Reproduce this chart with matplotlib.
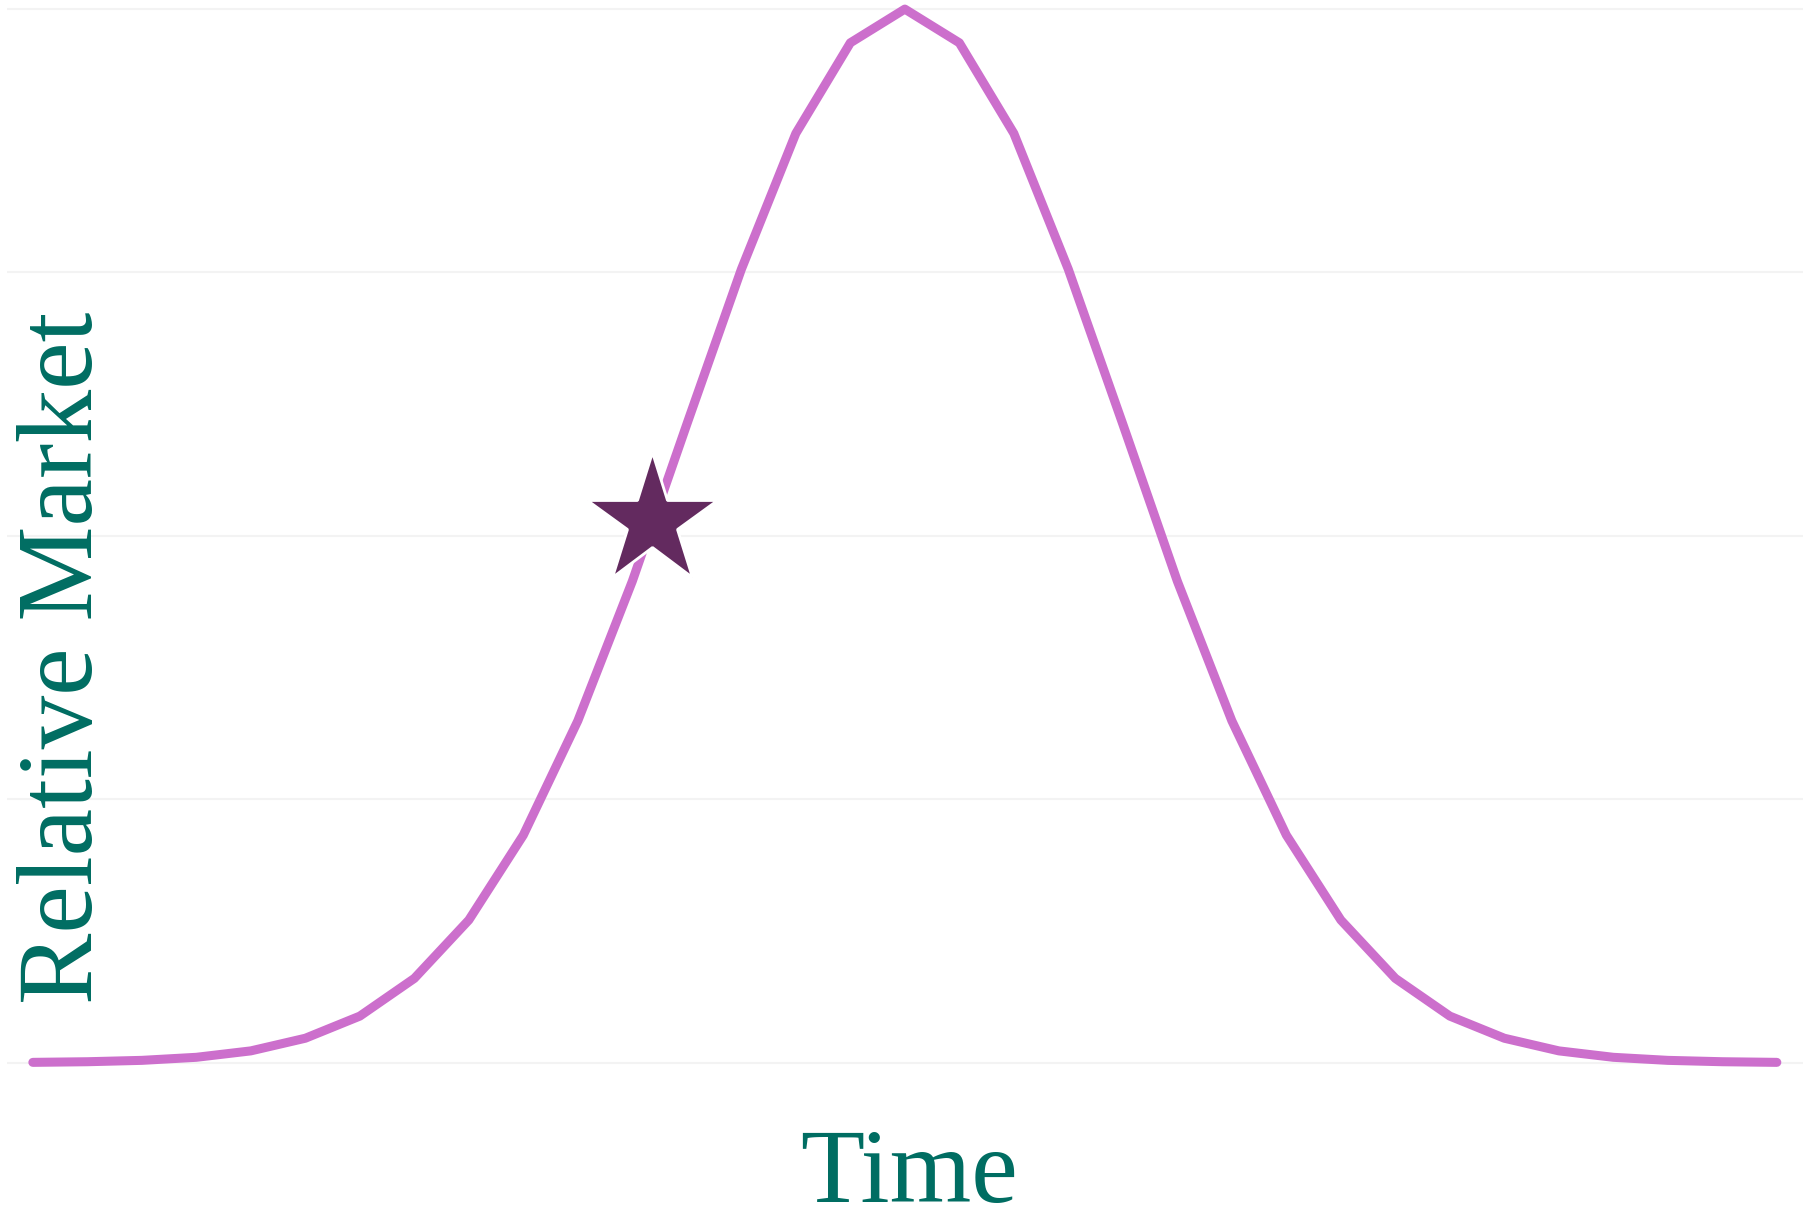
import numpy as np
import matplotlib.pyplot as plt

# curve (time steps and relative market level)
time = [-4.0, -3.75, -3.5, -3.25, -3.0, -2.75, -2.5, -2.25, -2.0, -1.75, -1.5,
        -1.25, -1.0, -0.75, -0.5, -0.25, 0.0, 0.25, 0.5, 0.75, 1.0, 1.25,
        1.5, 1.75, 2.0, 2.25, 2.5, 2.75, 3.0, 3.25, 3.5, 3.75, 4.0]
market = [0.0003, 0.0009, 0.0022, 0.0051, 0.0112, 0.0232, 0.0442, 0.0800,
          0.1354, 0.2160, 0.3245, 0.4570, 0.6060, 0.7530, 0.8820, 0.9680,
          1.0000, 0.9680, 0.8820, 0.7530, 0.6060, 0.4570, 0.3245, 0.2160,
          0.1354, 0.0800, 0.0442, 0.0232, 0.0112, 0.0051, 0.0022, 0.0009,
          0.0003]

# "you are here" star
star_time = [-1.16]
star_market = [0.514]

grid_levels = [0, 0.25, 0.5, 0.75, 1.0]

line_color = '#cc6fcc'
star_color = '#632a5f'
text_color = '#006d62'

fig = plt.figure(figsize=(18.03, 12.12), dpi=100)
ax = fig.add_axes([0.0037, 0.11625, 0.9963, 0.8832])

ax.plot(time, market, color=line_color, lw=6.5, solid_capstyle='round',
        solid_joinstyle='round', zorder=2)
ax.plot(star_time, star_market, marker='*', markersize=99, color=star_color,
        markeredgecolor='white', markeredgewidth=2, linestyle='none', zorder=3)

ax.set_xlim(-4.12, 4.12)
ax.set_ylim(-0.008, 1.008)

# only faint horizontal grid, no ticks or spines
ax.set_yticks(grid_levels)
ax.set_xticks([])
ax.grid(axis='y', color='#f3f3f3', lw=1.5, zorder=0)
ax.tick_params(length=0, labelleft=False, labelbottom=False)
for s in ax.spines.values():
    s.set_visible(False)

fig.text(92 / 1803, 1 - 657.5 / 1212, 'Relative Market', rotation=90,
         rotation_mode='anchor', ha='center', va='baseline',
         fontsize=77, family='Liberation Serif', color=text_color)
fig.text(909 / 1803, 1 - 1201.7 / 1212, 'Time', ha='center', va='baseline',
         fontsize=75.5, family='Liberation Serif', color=text_color)

fig.savefig('out.png', dpi=100)
